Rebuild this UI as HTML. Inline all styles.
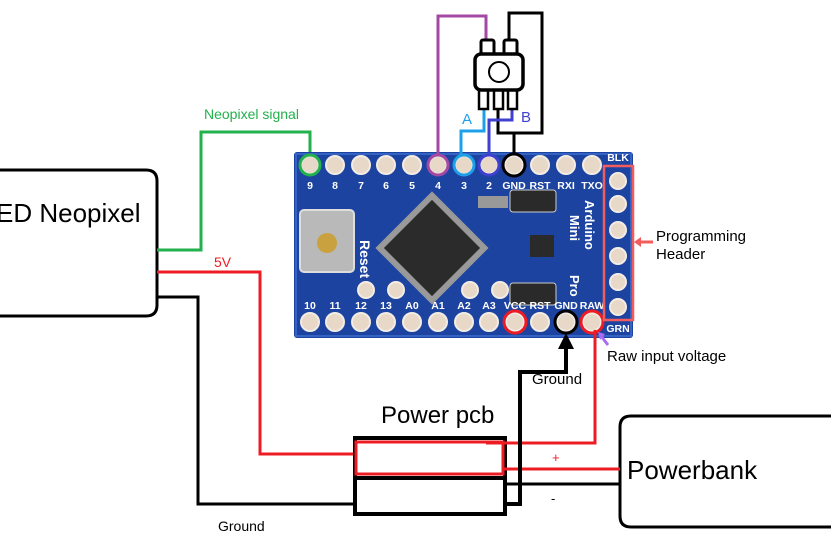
<!DOCTYPE html>
<html><head><meta charset="utf-8"><style>
html,body{margin:0;padding:0;background:#fff;width:831px;height:554px;overflow:hidden}
text{font-family:"Liberation Sans","DejaVu Sans",sans-serif}
</style></head><body>
<svg width="831" height="554" viewBox="0 0 831 554" xmlns="http://www.w3.org/2000/svg">
<path d="M-10,170 H146 Q157,170 157,181 V305 Q157,316 146,316 H-10" fill="#fff" stroke="#000" stroke-width="3"/>
<text x="-4" y="222" font-size="26" fill="#000">ED Neopixel</text>
<path d="M850,416 H631 Q620,416 620,427 V516 Q620,527 631,527 H850" fill="#fff" stroke="#000" stroke-width="3"/>
<text x="627" y="479" font-size="26" fill="#000">Powerbank</text>

<polyline points="157,250 201,250 201,132 310,132 310,160" fill="none" stroke="#22b14c" stroke-width="3"/>
<text x="204" y="119" font-size="14" fill="#22b14c">Neopixel signal</text>
<polyline points="157,272 260,272 260,454 356,454" fill="none" stroke="#ed1c24" stroke-width="3"/>
<text x="214" y="267" font-size="14" fill="#ed1c24">5V</text>
<polyline points="157,297 198,297 198,504 356,504" fill="none" stroke="#000" stroke-width="3"/>
<text x="218" y="531" font-size="14" fill="#000">Ground</text>

<rect x="294" y="152" width="339" height="186" rx="3" fill="#1d43a0"/>
<rect x="296" y="154" width="335" height="182" fill="none" stroke="#3563c4" stroke-width="2"/>
<rect x="300" y="210" width="54" height="62" rx="4" fill="#b9b9b9" stroke="#ddd" stroke-width="2"/>
<circle cx="327" cy="243" r="10" fill="#c9a13e"/>
<g transform="translate(432,248) rotate(45)">
<rect x="-40" y="-40" width="80" height="80" fill="#999"/>
<rect x="-34" y="-34" width="68" height="68" fill="#2b2b2b"/>
</g>
<rect x="510" y="190" width="46" height="22" rx="3" fill="#2a2a2a" stroke="#ccc"/>
<rect x="510" y="283" width="46" height="22" rx="3" fill="#2a2a2a" stroke="#ccc"/>
<rect x="530" y="235" width="24" height="22" fill="#2a2a2a"/>
<rect x="478" y="196" width="30" height="12" fill="#999"/>
<text x="360" y="240" font-size="14" fill="#fff" font-weight="bold" transform="rotate(90 360 240)">Reset</text>
<text x="585" y="200" font-size="13" fill="#fff" font-weight="bold" transform="rotate(90 585 200)">Arduino</text>
<text x="570" y="215" font-size="13" fill="#fff" font-weight="bold" transform="rotate(90 570 215)">Mini</text>
<text x="570" y="275" font-size="13" fill="#fff" font-weight="bold" transform="rotate(90 570 275)">Pro</text>
<g fill="#fff" font-size="10.5" font-weight="bold" text-anchor="middle">
<text x="310" y="189">9</text><text x="335" y="189">8</text><text x="361" y="189">7</text><text x="386" y="189">6</text><text x="412" y="189">5</text><text x="438" y="189">4</text><text x="464" y="189">3</text><text x="489" y="189">2</text><text x="514" y="189">GND</text><text x="540" y="189">RST</text><text x="566" y="189">RXI</text><text x="592" y="189">TXO</text>
<text x="310" y="309">10</text><text x="335" y="309">11</text><text x="361" y="309">12</text><text x="386" y="309">13</text><text x="412" y="309">A0</text><text x="438" y="309">A1</text><text x="464" y="309">A2</text><text x="489" y="309">A3</text><text x="515" y="309">VCC</text><text x="540" y="309">RST</text><text x="566" y="309">GND</text><text x="592" y="309">RAW</text>
<text x="618" y="161">BLK</text><text x="618" y="332">GRN</text>
</g>
<g fill="#e8d8c8" stroke="#f2ece4" stroke-width="2">
<circle cx="310" cy="165" r="9"/><circle cx="335" cy="165" r="9"/><circle cx="361" cy="165" r="9"/><circle cx="386" cy="165" r="9"/><circle cx="412" cy="165" r="9"/><circle cx="438" cy="165" r="9"/><circle cx="464" cy="165" r="9"/><circle cx="489" cy="165" r="9"/><circle cx="514" cy="165" r="9"/><circle cx="540" cy="165" r="9"/><circle cx="566" cy="165" r="9"/><circle cx="592" cy="165" r="9"/>
<circle cx="310" cy="322" r="9"/><circle cx="335" cy="322" r="9"/><circle cx="361" cy="322" r="9"/><circle cx="386" cy="322" r="9"/><circle cx="412" cy="322" r="9"/><circle cx="438" cy="322" r="9"/><circle cx="464" cy="322" r="9"/><circle cx="489" cy="322" r="9"/><circle cx="515" cy="322" r="9"/><circle cx="540" cy="322" r="9"/><circle cx="566" cy="322" r="9"/><circle cx="592" cy="322" r="9"/>
<circle cx="366" cy="290" r="8"/><circle cx="396" cy="290" r="8"/><circle cx="470" cy="290" r="8"/><circle cx="500" cy="290" r="8"/>
<circle cx="618" cy="181" r="8"/><circle cx="618" cy="204" r="8"/><circle cx="618" cy="230" r="8"/><circle cx="618" cy="256" r="8"/><circle cx="618" cy="282" r="8"/><circle cx="618" cy="307" r="8"/>
</g>
<g fill="none" stroke-width="3">
<circle cx="310" cy="165" r="10" stroke="#22b14c"/>
<circle cx="438" cy="165" r="10" stroke="#a349a4"/>
<circle cx="464" cy="165" r="10" stroke="#1ea0e8"/>
<circle cx="489" cy="165" r="10" stroke="#3f3fd0"/>
<circle cx="514" cy="165" r="11" stroke="#000"/>
<circle cx="515" cy="322" r="11" stroke="#ed1c24"/>
<circle cx="566" cy="322" r="11" stroke="#000"/>
<circle cx="592" cy="322" r="11" stroke="#ed1c24"/>
</g>
<rect x="604" y="166" width="29" height="154" fill="none" stroke="#f25c5c" stroke-width="2.5"/>
<line x1="653" y1="242" x2="638" y2="242" stroke="#f25c5c" stroke-width="3"/>
<polygon points="634,242 641,237 641,247" fill="#f25c5c"/>
<text x="656" y="241" font-size="15" fill="#000">Programming</text>
<text x="656" y="259" font-size="15" fill="#000">Header</text>
<line x1="608" y1="345" x2="601" y2="336" stroke="#a86cf0" stroke-width="3"/>
<polygon points="598,332 605,334 600,340" fill="#a86cf0"/>
<text x="607" y="361" font-size="15" fill="#000">Raw input voltage</text>

<polyline points="438,155 438,16 486,16 486,42" fill="none" stroke="#a349a4" stroke-width="3"/>
<polyline points="509,42 509,13 542,13 542,133 498,133 498,108" fill="none" stroke="#000" stroke-width="3"/>
<line x1="514" y1="133" x2="514" y2="154" stroke="#000" stroke-width="3"/>
<polyline points="484,106 484,131 461,131 461,155" fill="none" stroke="#1ea0e8" stroke-width="3"/>
<polyline points="512,106 512,120 489,120 489,155" fill="none" stroke="#3f3fd0" stroke-width="3"/>
<text x="462" y="124" font-size="15" fill="#1ea0e8">A</text>
<text x="521" y="122" font-size="15" fill="#3f3fd0">B</text>
<rect x="481" y="40" width="13" height="16" rx="2" fill="#fff" stroke="#000" stroke-width="3"/>
<rect x="504" y="40" width="13" height="16" rx="2" fill="#fff" stroke="#000" stroke-width="3"/>
<rect x="479" y="89" width="9" height="20" fill="#fff" stroke="#000" stroke-width="2.5"/>
<rect x="494" y="89" width="9" height="20" fill="#fff" stroke="#000" stroke-width="2.5"/>
<rect x="508" y="89" width="9" height="20" fill="#fff" stroke="#000" stroke-width="2.5"/>
<rect x="475" y="54" width="48" height="36" rx="6" fill="#fff" stroke="#000" stroke-width="3.5"/>
<circle cx="499" cy="72" r="10" fill="#fff" stroke="#000" stroke-width="2"/>

<text x="381" y="423" font-size="24" fill="#000">Power pcb</text>
<rect x="355" y="438" width="150" height="76" fill="#fff" stroke="#000" stroke-width="4"/>
<line x1="355" y1="478" x2="505" y2="478" stroke="#000" stroke-width="4"/>
<rect x="356" y="442" width="147" height="32" fill="#fff" stroke="#ed1c24" stroke-width="3"/>
<polyline points="486,443 595,443 595,330" fill="none" stroke="#ed1c24" stroke-width="3"/>
<line x1="503" y1="469" x2="620" y2="469" stroke="#ed1c24" stroke-width="3"/>
<text x="552" y="462" font-size="13" fill="#ed1c24">+</text>
<line x1="506" y1="484" x2="620" y2="484" stroke="#000" stroke-width="3"/>
<text x="551" y="503" font-size="13" fill="#000">-</text>
<polyline points="506,504 520,504 520,372 566,372 566,345" fill="none" stroke="#000" stroke-width="4"/>
<polygon points="566,333 558,349 574,349" fill="#000"/>
<text x="532" y="384" font-size="15" fill="#000">Ground</text>
</svg>
</body></html>
